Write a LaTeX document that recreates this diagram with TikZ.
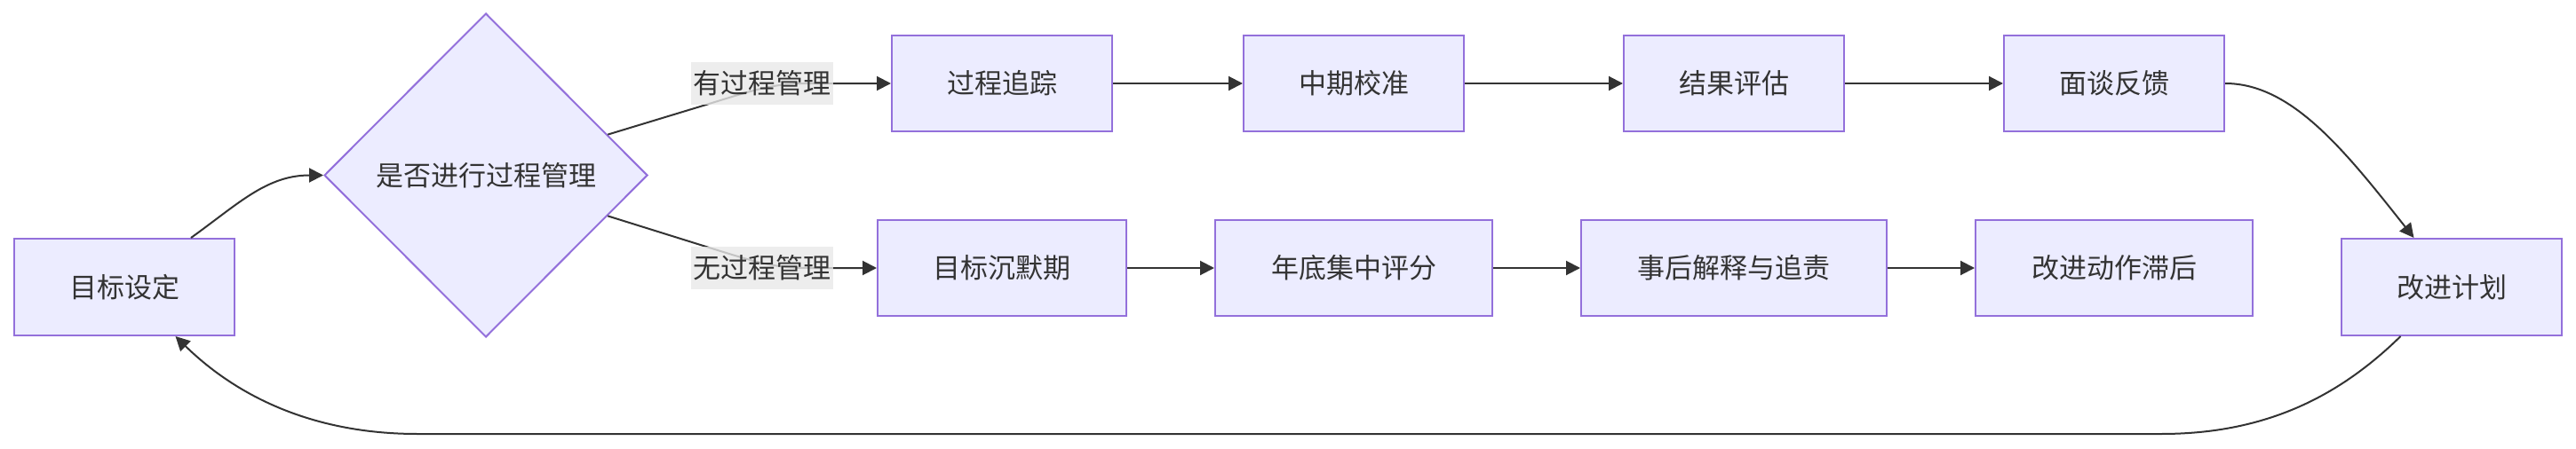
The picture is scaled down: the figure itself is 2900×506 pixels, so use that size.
\documentclass[tikz,border=0pt]{standalone}
\usepackage{fontspec}
\newfontfamily\cjk{Noto Sans CJK SC}
\usetikzlibrary{shapes.geometric,arrows.meta,calc}
\definecolor{nodefill}{HTML}{ECECFF}
\definecolor{nodeline}{HTML}{9370DB}
\definecolor{edgecol}{HTML}{333333}
\definecolor{lblbg}{HTML}{E8E8E8}
\tikzset{
  box/.style={draw=nodeline,fill=nodefill,line width=2pt,minimum height=108pt,inner sep=0pt,text=edgecol,font=\cjk\fontsize{31}{36}\selectfont},
  dec/.style={diamond,draw=nodeline,fill=nodefill,line width=2pt,minimum width=364pt,minimum height=365pt,inner sep=0pt,text=edgecol,font=\cjk\fontsize{31}{36}\selectfont},
  edge/.style={draw=edgecol,line width=2pt,-{Triangle[length=16pt,width=16pt]}},
  lbl/.style={fill=lblbg,fill opacity=0.8,text opacity=1,text=edgecol,inner sep=0pt,minimum width=160pt,minimum height=48pt,font=\cjk\fontsize{31}{36}\selectfont}
}
\begin{document}
\begin{tikzpicture}[x=1pt,y=-1pt]
\useasboundingbox (0,0) rectangle (2900,506);
\node[box,minimum width=248pt,minimum height=109pt] (a) at (140,323.5) {目标设定};
\node[dec] (d) at (547,197.5) {是否进行过程管理};
\node[box,minimum width=248pt] (p1) at (1128,94) {过程追踪};
\node[box,minimum width=248pt] (p2) at (1524,94) {中期校准};
\node[box,minimum width=248pt] (p3) at (1952,94) {结果评估};
\node[box,minimum width=248pt] (p4) at (2380,94) {面谈反馈};
\node[box,minimum width=280pt] (n1) at (1128,302) {目标沉默期};
\node[box,minimum width=312pt] (n2) at (1524,302) {年底集中评分};
\node[box,minimum width=344pt] (n3) at (1952,302) {事后解释与追责};
\node[box,minimum width=312pt] (n4) at (2380,302) {改进动作滞后};
\node[box,minimum width=248pt,minimum height=109pt] (k) at (2760,323.5) {改进计划};
\coordinate (dup) at ($(d.east)!0.25!(d.north)$);
\coordinate (ddn) at ($(d.east)!0.25!(d.south)$);
\coordinate (atop) at ($(a.north west)!0.80!(a.north east)$);
\coordinate (abot) at ($(a.south west)!0.73!(a.south east)$);
\coordinate (ktop) at ($(k.north west)!0.33!(k.north east)$);
\coordinate (kbot) at ($(k.south west)!0.27!(k.south east)$);
% edges
\draw[edge] (atop) .. controls (268,230) and (300,197.5) .. (d.west);
\draw[edge] (dup) -- (795,118) .. controls (850,101) and (870,94) .. (910,94) -- (p1.west);
\draw[edge] (ddn) -- (795,278) .. controls (850,295) and (870,302) .. (910,302) -- (n1.west);
\draw[edge] (p1) -- (p2);
\draw[edge] (p2) -- (p3);
\draw[edge] (p3) -- (p4);
\draw[edge] (n1) -- (n2);
\draw[edge] (n2) -- (n3);
\draw[edge] (n3) -- (n4);
\draw[edge] (p4.east) .. controls (2580,94) and (2640,170) .. (ktop);
\draw[edge] (kbot) .. controls (2635,445) and (2553,489) .. (2433,489) -- (470,489) .. controls (350,489) and (265,445) .. (abot);
% labels
\node[lbl] (l1) at (858,94) {有过程管理};
\node[lbl] (l2) at (858,302) {无过程管理};
\end{tikzpicture}
\end{document}
